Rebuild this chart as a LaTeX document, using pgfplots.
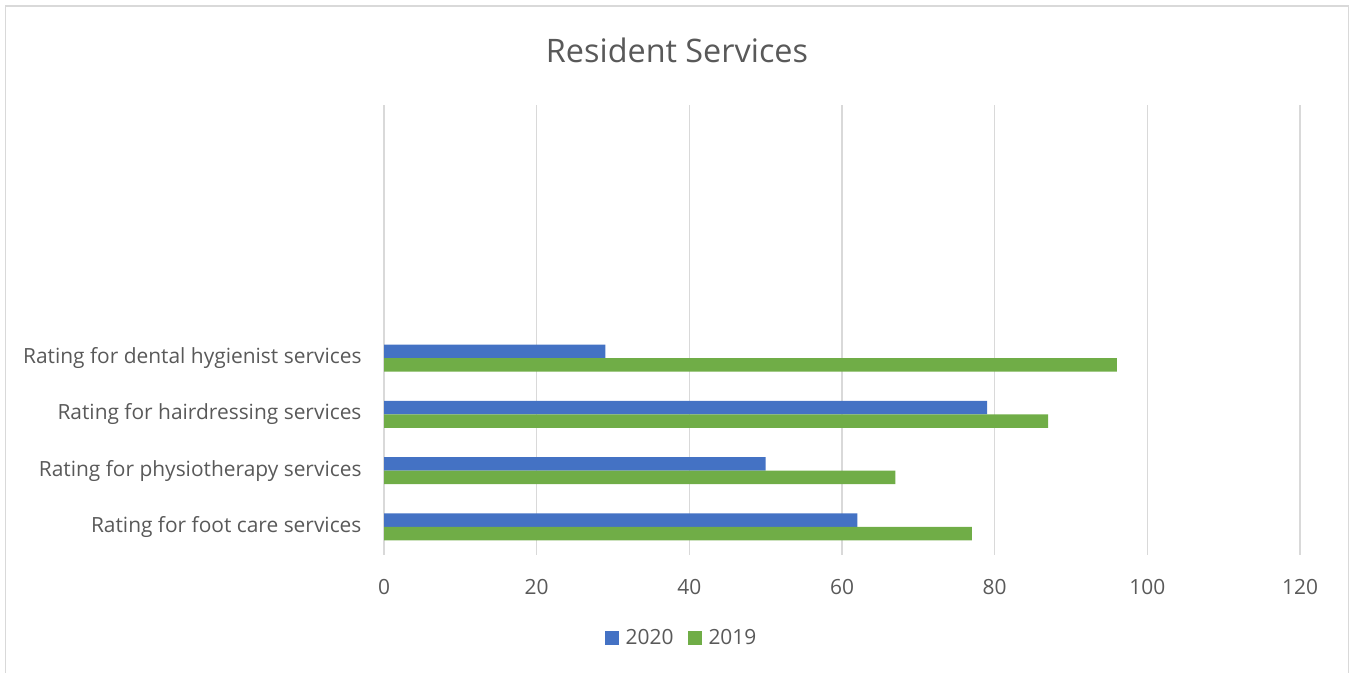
\documentclass[border=0pt]{standalone}
\usepackage{fontspec}
\setmainfont{Open Sans}
\usepackage{pgfplots}
\pgfplotsset{compat=1.18}
\definecolor{c2020}{HTML}{4472C4}
\definecolor{c2019}{HTML}{70AD47}
\definecolor{gridc}{HTML}{D9D9D9}
\definecolor{txt}{HTML}{595959}
\begin{document}
\begin{tikzpicture}[x=1bp,y=1bp]
\useasboundingbox (0,0) rectangle (1351,673);
\draw[gridc, line width=1.3bp] (5.5,-5) rectangle (1348.5,667);
\node[txt, font=\fontsize{32.5}{38}\selectfont] at (677,623) {Resident Services};
\begin{axis}[
 at={(384bp,118bp)}, anchor=south west,
 scale only axis, width=916bp, height=450bp,
 xbar, bar width=13.4bp,
 xmin=0, xmax=120, ymin=-0.5, ymax=7.5,
 xtick={0,20,...,120},
 ytick={0,1,2,3},
 yticklabels={Rating for foot care services, Rating for physiotherapy services, Rating for hairdressing services, Rating for dental hygienist services},
 xmajorgrids, major grid style={gridc, line width=1.3bp},
 axis line style={draw=none},
 major tick length=0pt,
 tick label style={txt, font=\fontsize{21}{25}\selectfont},
 /pgf/number format/assume math mode=true,
 xticklabel style={yshift=-21bp},
 yticklabel style={xshift=-19bp},
 legend style={at={(0.3248,-0.184)}, anchor=center, draw=none, legend columns=2,
   font=\fontsize{21}{25}\selectfont, text=txt,
   /tikz/every odd column/.append style={column sep=5bp},
   /tikz/every even column/.append style={column sep=12bp}},
 legend image code/.code={\fill[#1] (0bp,-7bp) rectangle (14bp,7bp);},
]
\addplot[fill=c2020, draw=none, bar shift=6.7bp] coordinates {(62,0) (50,1) (79,2) (29,3)};
\addplot[fill=c2019, draw=none, bar shift=-6.7bp] coordinates {(77,0) (67,1) (87,2) (96,3)};
\legend{2020,2019}
\end{axis}
\end{tikzpicture}
\end{document}
